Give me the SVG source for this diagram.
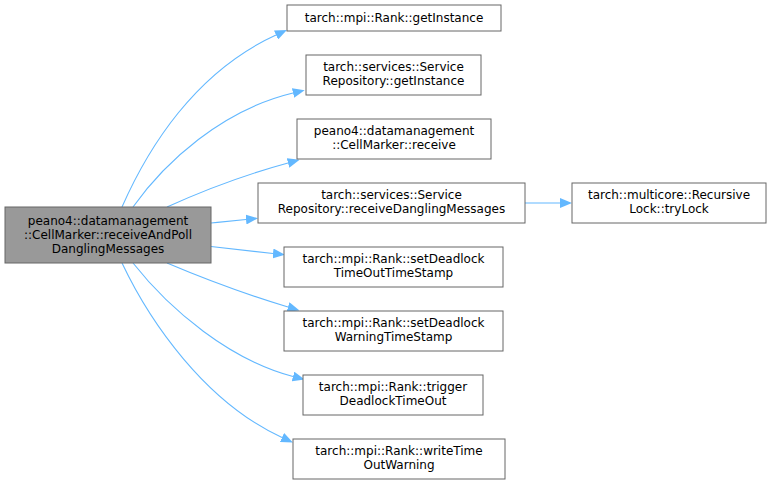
<svg xmlns="http://www.w3.org/2000/svg" width="780" height="485" viewBox="0 0 780 485">
<style>
.n rect{fill:#ffffff;stroke:#666666;stroke-width:1}
.n.main rect{fill:#999999}
.n text{font-family:"DejaVu Sans","Liberation Sans",sans-serif;font-size:12px;fill:#000;text-anchor:middle}
.e path{fill:none;stroke:#63b8ff;stroke-width:1.1}
</style>
<defs>
<marker id="ah" viewBox="0 0 12 10" refX="0" refY="5" markerWidth="12" markerHeight="10" markerUnits="userSpaceOnUse" orient="auto">
<path d="M0,0 L12,5 L0,10 z" fill="#63b8ff"/>
</marker>
</defs>
<rect width="780" height="485" fill="#ffffff"/>
<g id="edges" class="e">
<path d="M122,207 C148,148 195,72 276,35" marker-end="url(#ah)"/>
<path d="M133,207 C165,162 222,110 293,93" marker-end="url(#ah)"/>
<path d="M167,207 C200,192 240,176 288,163" marker-end="url(#ah)"/>
<path d="M211,223 C222,222 232,221 246,219.5" marker-end="url(#ah)"/>
<path d="M211,246.5 C230,248.5 250,251 273,253.5" marker-end="url(#ah)"/>
<path d="M167,263 C200,277 245,294 288,307" marker-end="url(#ah)"/>
<path d="M133,263 C170,310 230,360 293,376.5" marker-end="url(#ah)"/>
<path d="M122,263 C150,322 205,402 282,437.5" marker-end="url(#ah)"/>
<path d="M525,203 L560,203" marker-end="url(#ah)"/>
</g>
<g id="node-main" class="n main">
<rect x="5" y="207" width="206" height="56"/>
<text x="108" y="224.5">peano4::datamanagement</text>
<text x="108" y="238.5">::CellMarker::receiveAndPoll</text>
<text x="108" y="252.5">DanglingMessages</text>
</g>
<g id="node-rank-getInstance" class="n">
<rect x="287" y="5" width="214" height="26"/>
<text x="394" y="22">tarch::mpi::Rank::getInstance</text>
</g>
<g id="node-service-getInstance" class="n">
<rect x="306" y="55" width="175" height="40"/>
<text x="393.5" y="71">tarch::services::Service</text>
<text x="393.5" y="85">Repository::getInstance</text>
</g>
<g id="node-cellmarker-receive" class="n">
<rect x="297" y="119" width="194" height="40"/>
<text x="394" y="135">peano4::datamanagement</text>
<text x="394" y="149">::CellMarker::receive</text>
</g>
<g id="node-receiveDangling" class="n">
<rect x="258" y="183" width="267" height="40"/>
<text x="391.5" y="199">tarch::services::Service</text>
<text x="391.5" y="213">Repository::receiveDanglingMessages</text>
</g>
<g id="node-tryLock" class="n">
<rect x="572" y="183" width="194" height="40"/>
<text x="669" y="199">tarch::multicore::Recursive</text>
<text x="669" y="213">Lock::tryLock</text>
</g>
<g id="node-setDeadlockTimeOut" class="n">
<rect x="284" y="247" width="219" height="40"/>
<text x="393.5" y="263">tarch::mpi::Rank::setDeadlock</text>
<text x="393.5" y="277">TimeOutTimeStamp</text>
</g>
<g id="node-setDeadlockWarning" class="n">
<rect x="284" y="311" width="219" height="40"/>
<text x="393.5" y="327">tarch::mpi::Rank::setDeadlock</text>
<text x="393.5" y="341">WarningTimeStamp</text>
</g>
<g id="node-trigger" class="n">
<rect x="303" y="375" width="180" height="40"/>
<text x="393" y="391">tarch::mpi::Rank::trigger</text>
<text x="393" y="405">DeadlockTimeOut</text>
</g>
<g id="node-writeTime" class="n">
<rect x="293" y="439" width="212" height="40"/>
<text x="399" y="455">tarch::mpi::Rank::writeTime</text>
<text x="399" y="469">OutWarning</text>
</g>
</svg>
